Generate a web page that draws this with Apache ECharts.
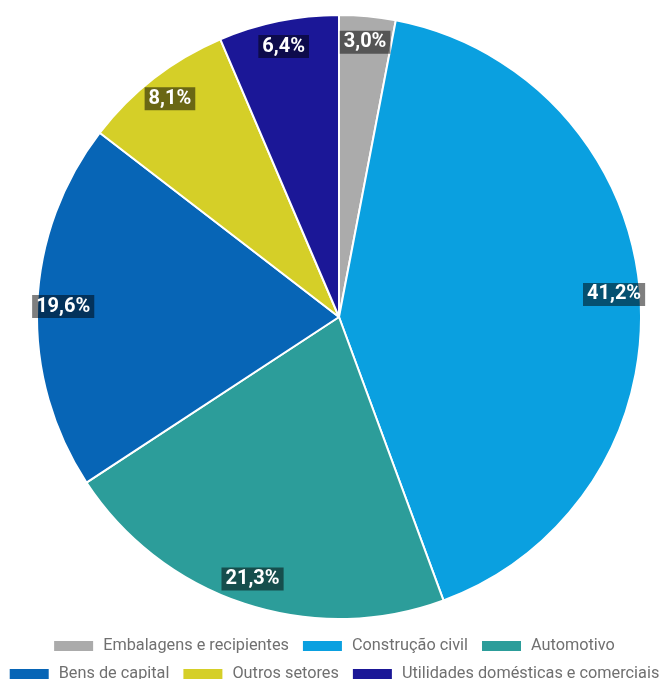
<!DOCTYPE html>
<html>
<head>
<meta charset="utf-8">
<script src="https://cdn.jsdelivr.net/npm/echarts@6/dist/echarts.min.js"></script>
<style>
html,body{margin:0;padding:0;background:#fff;}
#chart{width:667px;height:679px;}
</style>
</head>
<body>
<div id="chart"></div>
<script>
const categories = ['Embalagens e recipientes', 'Construção civil', 'Automotivo', 'Bens de capital', 'Outros setores', 'Utilidades domésticas e comerciais'];
const values = [3.0, 41.2, 21.3, 19.6, 8.1, 6.4];
const colors = ['#ababab', '#0aa0e0', '#2c9d9a', '#0765b6', '#d5cf28', '#1b1797'];
const legendRow1 = categories.slice(0, 3);
const legendRow2 = categories.slice(3);

const chart = echarts.init(document.getElementById('chart'), null, {renderer: 'canvas'});
const data = categories.map((c, i) => ({name: c, value: values[i], itemStyle: {color: colors[i]}}));
const labelData = categories.map((c, i) => ({name: c, value: values[i]}));
const fmt = p => p.value.toFixed(1).replace('.', ',') + '%';

const legendCommon = {
  left: 'center',
  orient: 'horizontal',
  padding: 0,
  itemWidth: 41,
  itemHeight: 12,
  itemGap: 12,
  icon: 'rect',
  textStyle: {fontFamily: 'Roboto', fontSize: 16.3, color: '#707070', lineHeight: 18, padding: [0, 0, 0, 4]}
};

chart.setOption({
  animation: false,
  legend: [
    Object.assign({}, legendCommon, {top: 637, data: legendRow1.map(n => ({name: n, itemStyle: {color: colors[categories.indexOf(n)]}}))}),
    Object.assign({}, legendCommon, {top: 665, data: legendRow2.map(n => ({name: n, itemStyle: {color: colors[categories.indexOf(n)]}}))})
  ],
  series: [
    {
      type: 'pie',
      center: [339, 317],
      radius: [0, 302],
      startAngle: 90,
      clockwise: true,
      avoidLabelOverlap: false,
      label: {show: false},
      labelLine: {show: false},
      itemStyle: {borderColor: '#ffffff', borderWidth: 2},
      emphasis: {disabled: true},
      data: data
    },
    {
      type: 'pie',
      center: [339, 317],
      radius: [244, 302],
      startAngle: 90,
      clockwise: true,
      silent: true,
      avoidLabelOverlap: false,
      itemStyle: {color: 'rgba(0,0,0,0)', borderWidth: 0},
      labelLine: {show: false},
      emphasis: {disabled: true},
      label: {
        show: true,
        position: 'inside',
        formatter: fmt,
        fontFamily: 'Roboto',
        fontWeight: 'bold',
        fontSize: 20,
        lineHeight: 20,
        color: '#ffffff',
        backgroundColor: 'rgba(0,0,0,0.5)',
        padding: [2, 4, 1, 4]
      },
      data: labelData
    }
  ]
});
</script>
</body>
</html>
